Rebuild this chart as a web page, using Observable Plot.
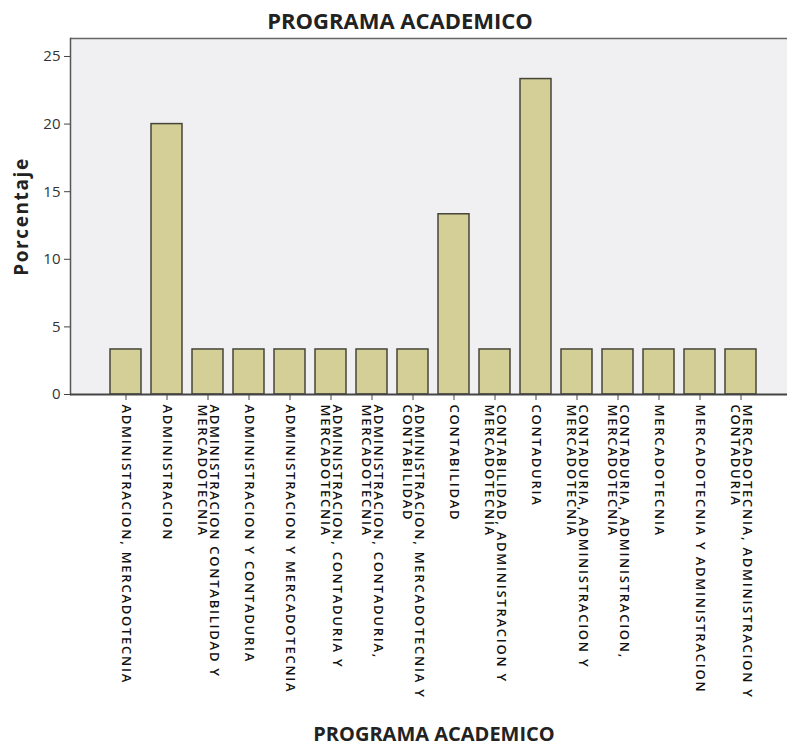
<!DOCTYPE html>
<html>
<head>
<meta charset="utf-8">
<script src="https://cdn.jsdelivr.net/npm/d3@7"></script>
<script src="https://cdn.jsdelivr.net/npm/@observablehq/plot@0.6"></script>
<style>
  html, body { margin: 0; padding: 0; background: #fff; }
  #chart svg { display: block; }
</style>
</head>
<body>
<div id="chart"></div>
<script>
const titulo = "PROGRAMA ACADEMICO";
const ejeY = "Porcentaje";
const ejeX = "PROGRAMA ACADEMICO";

const categorias = [
  "ADMINISTRACION, MERCADOTECNIA",
  "ADMINISTRACION",
  "ADMINISTRACION CONTABILIDAD Y MERCADOTECNIA",
  "ADMINISTRACION Y CONTADURIA",
  "ADMINISTRACION Y MERCADOTECNIA",
  "ADMINISTRACION, CONTADURIA Y MERCADOTECNIA",
  "ADMINISTRACION, CONTADURIA, MERCADOTECNIA",
  "ADMINISTRACION, MERCADOTECNIA Y CONTABILIDAD",
  "CONTABILIDAD",
  "CONTABILIDAD, ADMINISTRACION Y MERCADOTECNIA",
  "CONTADURIA",
  "CONTADURIA, ADMINISTRACION Y MERCADOTECNIA",
  "CONTADURIA, ADMINISTRACION, MERCADOTECNIA",
  "MERCADOTECNIA",
  "MERCADOTECNIA Y ADMINISTRACION",
  "MERCADOTECNIA, ADMINISTRACION Y CONTADURIA"
];

const etiquetas = [
  "ADMINISTRACION, MERCADOTECNIA",
  "ADMINISTRACION",
  "ADMINISTRACION CONTABILIDAD Y\nMERCADOTECNIA",
  "ADMINISTRACION Y CONTADURIA",
  "ADMINISTRACION Y MERCADOTECNIA",
  "ADMINISTRACION, CONTADURIA Y\nMERCADOTECNIA",
  "ADMINISTRACION, CONTADURIA,\nMERCADOTECNIA",
  "ADMINISTRACION, MERCADOTECNIA Y\nCONTABILIDAD",
  "CONTABILIDAD",
  "CONTABILIDAD, ADMINISTRACION Y\nMERCADOTECNIA",
  "CONTADURIA",
  "CONTADURIA, ADMINISTRACION Y\nMERCADOTECNIA",
  "CONTADURIA, ADMINISTRACION,\nMERCADOTECNIA",
  "MERCADOTECNIA",
  "MERCADOTECNIA Y ADMINISTRACION",
  "MERCADOTECNIA, ADMINISTRACION Y\nCONTADURIA"
];

const porcentajes = [3.33, 20, 3.33, 3.33, 3.33, 3.33, 3.33, 3.33, 13.33, 3.33, 23.33, 3.33, 3.33, 3.33, 3.33, 3.33];

const yTicks = [0, 5, 10, 15, 20, 25];

const datos = categorias.map((c, i) => ({programa: c, etiqueta: etiquetas[i], porcentaje: porcentajes[i]}));

const chart = Plot.plot({
  width: 787,
  height: 747,
  marginTop: 38,
  marginBottom: 353,
  marginLeft: 70,
  marginRight: 0,
  style: {fontFamily: "'Open Sans', sans-serif", background: "#fff", color: "#222"},
  x: {domain: categorias, range: [106.6, 759.4], paddingInner: 0.24, paddingOuter: 0, axis: null},
  y: {domain: [0, 26.33], axis: null},
  marks: [
    Plot.frame({fill: "#f0f0f2", stroke: null}),
    Plot.ruleY([26.33], {stroke: "#666", strokeWidth: 1.5}),
    Plot.frame({anchor: "left", stroke: "#555", strokeWidth: 1.5}),
    Plot.barY(datos, {x: "programa", y: "porcentaje", fill: "#d4cf96", stroke: "#45453a", strokeWidth: 1.5}),
    Plot.ruleY([0], {stroke: "#444", strokeWidth: 2}),
    Plot.axisY({ticks: yTicks, tickSize: 6, tickPadding: 4, fontSize: 15, label: null, stroke: "#444", fill: "#333"}),
    Plot.axisX({tickSize: 6, tickFormat: () => "", label: null, stroke: "#444"}),
    Plot.text(datos, {x: "programa", text: "etiqueta", frameAnchor: "bottom", dy: 10, rotate: 90,
      textAnchor: "start", lineAnchor: "middle", lineHeight: 0.95, fontSize: 13, fontWeight: 600, fill: "#111"}),
    Plot.text([ejeY], {frameAnchor: "left", dx: -49, rotate: -90, textAnchor: "middle", lineAnchor: "middle",
      fontSize: 19, fontWeight: "bold", fill: "#222"}),
    Plot.text([titulo], {frameAnchor: "top", dx: -29, dy: -10, lineAnchor: "bottom",
      fontSize: 22, fontWeight: "bold", fill: "#222"}),
    Plot.text([ejeX], {frameAnchor: "bottom", dx: 5, dy: 346, lineAnchor: "bottom",
      fontSize: 20, fontWeight: "bold", fill: "#222"})
  ]
});

d3.select(chart).selectAll("g[font-size='13'] text").style("letter-spacing", "1.75px");
d3.select(chart).selectAll("g[font-size='19'] text").style("letter-spacing", "1.6px");
document.getElementById("chart").appendChild(chart);
</script>
</body>
</html>
